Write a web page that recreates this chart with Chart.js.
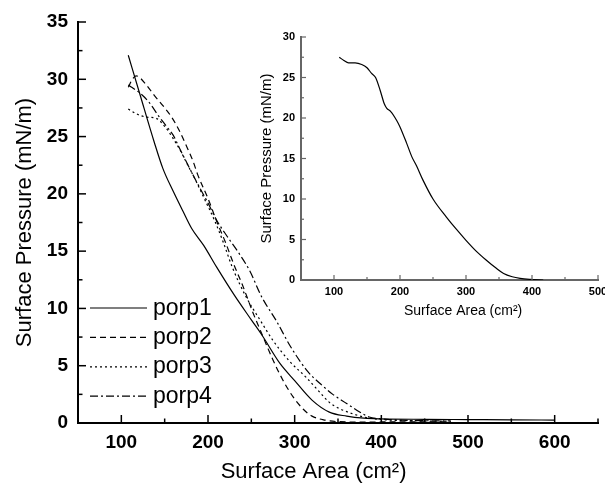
<!DOCTYPE html>
<html>
<head>
<meta charset="utf-8">
<script src="https://cdn.jsdelivr.net/npm/chart.js@4"></script>
<style>
  html, body { margin: 0; padding: 0; background: #fff; overflow: hidden; }
  #wrap { position: relative; width: 605px; height: 483px; overflow: hidden; }
  #mainChart { position: absolute; left: 0; top: 0; }
  #insetChart { position: absolute; left: 250px; top: 0; }
</style>
</head>
<body>
<div id="wrap">
  <canvas id="mainChart" width="605" height="483"></canvas>
  <canvas id="insetChart" width="365" height="330"></canvas>
</div>
<script>
// main plot, four isotherms
const porp1X = [108, 121, 138, 148, 160, 171, 181, 195, 210, 230, 250, 262, 283, 300, 320, 340, 360, 380, 400, 450, 500, 550, 600];
const porp1Y = [32.1, 28.8, 24.5, 22.2, 20.2, 18.5, 17.0, 15.5, 13.6, 11.2, 9.0, 7.7, 5.2, 3.7, 2.0, 0.95, 0.6, 0.42, 0.36, 0.32, 0.3, 0.28, 0.25];

const porp2X = [108, 112, 117, 129, 138, 148, 158, 167, 175, 183, 188, 200, 210, 220, 230, 240, 252, 262, 275, 286, 298, 310, 320, 335, 350, 380, 420, 480];
const porp2Y = [29.3, 29.9, 30.3, 29.5, 28.6, 27.7, 26.7, 25.5, 24.2, 22.8, 21.7, 19.6, 17.6, 15.8, 13.8, 12.0, 9.6, 7.8, 5.5, 3.8, 2.3, 1.2, 0.6, 0.25, 0.12, 0.08, 0.1, 0.1];

const porp3X = [108, 117, 129, 140, 152, 160, 168, 176, 185, 195, 208, 218, 228, 244, 260, 275, 294, 313, 330, 340, 352, 367, 383, 400, 440, 480];
const porp3Y = [27.4, 27.0, 26.7, 26.6, 25.7, 24.8, 23.8, 22.6, 21.3, 19.7, 17.6, 15.7, 13.6, 11.0, 9.0, 7.2, 5.4, 4.0, 2.6, 1.8, 1.25, 0.8, 0.47, 0.3, 0.2, 0.15];

const porp4X = [108, 112, 123, 133, 142, 152, 160, 167, 175, 181, 190, 200, 210, 222, 235, 248, 262, 279, 295, 315, 330, 344, 360, 375, 386, 398, 420, 480];
const porp4Y = [29.5, 29.3, 28.7, 27.9, 26.9, 25.9, 25.1, 24.0, 22.8, 21.9, 20.6, 19.2, 17.7, 16.3, 14.9, 13.3, 11.0, 8.9, 6.7, 4.5, 3.4, 2.5, 1.7, 0.96, 0.52, 0.38, 0.25, 0.18];

// inset plot, single isotherm
const insetX = [108, 115, 122, 132, 142, 150, 157, 163, 170, 176, 180, 186, 195, 200, 210, 218, 225, 235, 250, 270, 285, 300, 315, 330, 345, 357, 370, 382, 397, 417];
const insetY = [27.5, 27.1, 26.8, 26.8, 26.6, 26.2, 25.5, 25.0, 23.4, 21.8, 21.2, 20.8, 19.7, 18.9, 16.9, 15.2, 14.1, 12.3, 10.0, 7.8, 6.3, 4.9, 3.6, 2.5, 1.5, 0.8, 0.4, 0.2, 0.08, 0];

const seriesNames = ['porp1', 'porp2', 'porp3', 'porp4'];
const seriesDash = [[], [6, 4], [2, 3], [8, 3, 2, 3]];

// tick positions
const mainXTicks = [100, 200, 300, 400, 500, 600];
const mainXMinor = [150, 250, 350, 450, 550, 650];
const mainYTicks = [0, 5, 10, 15, 20, 25, 30, 35];
const mainYMinor = [2.5, 7.5, 12.5, 17.5, 22.5, 27.5, 32.5];
const insetXTicks = [100, 200, 300, 400, 500];
const insetXMinor = [150, 250, 350, 450];
const insetYTicks = [0, 5, 10, 15, 20, 25, 30];
const insetYMinor = [2.5, 7.5, 12.5, 17.5, 22.5, 27.5];

const toPoints = (xs, ys) => xs.map((x, i) => ({ x: x, y: ys[i] }));

// ticks drawn pointing into the plot
const inwardTicks = {
  id: 'inwardTicks',
  afterDatasetsDraw(chart, args, o) {
    const ctx = chart.ctx;
    const { left, bottom } = chart.chartArea;
    const xs = chart.scales.x, ys = chart.scales.y;
    ctx.save();
    ctx.strokeStyle = o.color;
    ctx.lineWidth = o.width;
    const seg = (x1, y1, x2, y2) => { ctx.beginPath(); ctx.moveTo(x1, y1); ctx.lineTo(x2, y2); ctx.stroke(); };
    o.xMajor.forEach(v => { const p = xs.getPixelForValue(v); seg(p, bottom, p, bottom - o.major); });
    o.xMinor.forEach(v => { const p = xs.getPixelForValue(v); seg(p, bottom, p, bottom - o.minor); });
    o.yMajor.forEach(v => { const p = ys.getPixelForValue(v); seg(left, p, left + o.major, p); });
    o.yMinor.forEach(v => { const p = ys.getPixelForValue(v); seg(left, p, left + o.minor, p); });
    ctx.restore();
  }
};

// legend sitting inside the plot, lower left
const lineLegend = {
  id: 'lineLegend',
  afterDatasetsDraw(chart, args, o) {
    const ctx = chart.ctx;
    ctx.save();
    ctx.font = o.font;
    ctx.fillStyle = '#000';
    ctx.textBaseline = 'alphabetic';
    chart.data.datasets.forEach((ds, i) => {
      const y = o.y + i * o.gap;
      ctx.strokeStyle = ds.borderColor;
      ctx.lineWidth = ds.borderWidth;
      ctx.setLineDash(ds.borderDash);
      ctx.beginPath(); ctx.moveTo(o.x1, y); ctx.lineTo(o.x2, y); ctx.stroke();
      ctx.setLineDash([]);
      ctx.fillText(ds.label, o.textX, y + 6.5);
    });
    ctx.restore();
  }
};

const mainSets = [[porp1X, porp1Y], [porp2X, porp2Y], [porp3X, porp3Y], [porp4X, porp4Y]];

new Chart(document.getElementById('mainChart'), {
  type: 'line',
  data: {
    datasets: mainSets.map((s, i) => ({
      label: seriesNames[i],
      data: toPoints(s[0], s[1]),
      borderColor: '#000',
      borderWidth: 1.2,
      borderDash: seriesDash[i],
      pointRadius: 0,
      fill: false,
      cubicInterpolationMode: 'monotone'
    }))
  },
  options: {
    responsive: false,
    animation: false,
    layout: { padding: { left: 0, right: 7, top: 22, bottom: 0 } },
    plugins: {
      legend: { display: false },
      tooltip: { enabled: false },
      inwardTicks: { color: '#000', width: 1.5, major: 8, minor: 4.5,
        xMajor: mainXTicks, xMinor: mainXMinor, yMajor: mainYTicks, yMinor: mainYMinor },
      lineLegend: { font: '23px "Liberation Sans", Arial, sans-serif', x1: 90, x2: 147, textX: 153, y: 308, gap: 29.4 }
    },
    scales: {
      x: {
        type: 'linear', min: 50, max: 650,
        afterBuildTicks: s => { s.ticks = mainXTicks.map(v => ({ value: v })); },
        afterFit: s => { s.height = 60; },
        grid: { display: false, drawTicks: false },
        border: { display: true, color: '#000', width: 2 },
        ticks: { color: '#000', padding: 8, font: { family: '"Liberation Sans", Arial', size: 19, weight: 'bold' } },
        title: { display: true, text: 'Surface Area (cm²)\u00a0\u00a0\u00a0\u00a0\u00a0\u00a0\u00a0\u00a0', color: '#000',
          padding: { top: 0, bottom: -2 }, font: { family: '"Liberation Sans", Arial', size: 22 } }
      },
      y: {
        min: 0, max: 35,
        afterBuildTicks: s => { s.ticks = mainYTicks.map(v => ({ value: v })); },
        afterFit: s => { s.width = 78; },
        grid: { display: false, drawTicks: false },
        border: { display: true, color: '#000', width: 2 },
        ticks: { color: '#000', padding: 10, font: { family: '"Liberation Sans", Arial', size: 19, weight: 'bold' } },
        title: { display: true, text: 'Surface Pressure (mN/m)', color: '#000',
          padding: { top: 12, bottom: 0 }, font: { family: '"Liberation Sans", Arial', size: 22 } }
      }
    }
  },
  plugins: [inwardTicks, lineLegend]
});

new Chart(document.getElementById('insetChart'), {
  type: 'line',
  data: {
    datasets: [{
      label: 'inset',
      data: toPoints(insetX, insetY),
      borderColor: '#000',
      borderWidth: 1.2,
      pointRadius: 0,
      fill: false,
      cubicInterpolationMode: 'monotone'
    }]
  },
  options: {
    responsive: false,
    animation: false,
    layout: { padding: { left: 0, right: 17, top: 37, bottom: 0 } },
    plugins: {
      legend: { display: false },
      tooltip: { enabled: false },
      inwardTicks: { color: '#666', width: 1.2, major: 5, minor: 3,
        xMajor: insetXTicks, xMinor: insetXMinor, yMajor: insetYTicks, yMinor: insetYMinor }
    },
    scales: {
      x: {
        type: 'linear', min: 50, max: 500,
        afterBuildTicks: s => { s.ticks = insetXTicks.map(v => ({ value: v })); },
        afterFit: s => { s.height = 50; },
        grid: { display: false, drawTicks: false },
        border: { display: true, color: '#666', width: 2 },
        ticks: { color: '#000', padding: 5, font: { family: '"Liberation Sans", Arial', size: 11, weight: 'bold' } },
        title: { display: true, text: '\u00a0\u00a0\u00a0\u00a0\u00a0\u00a0\u00a0Surface Area (cm²)', color: '#000',
          padding: { top: 0, bottom: 10 }, font: { family: '"Liberation Sans", Arial', size: 14 } }
      },
      y: {
        min: 0, max: 30,
        afterBuildTicks: s => { s.ticks = insetYTicks.map(v => ({ value: v })); },
        afterFit: s => { s.width = 51; },
        grid: { display: false, drawTicks: false },
        border: { display: true, color: '#666', width: 2 },
        ticks: { color: '#000', padding: 6, font: { family: '"Liberation Sans", Arial', size: 11, weight: 'bold' } },
        title: { display: true, text: 'Surface Pressure (mN/m)', color: '#000',
          padding: { top: 8, bottom: 0 }, font: { family: '"Liberation Sans", Arial', size: 15 } }
      }
    }
  },
  plugins: [inwardTicks]
});
</script>
</body>
</html>
